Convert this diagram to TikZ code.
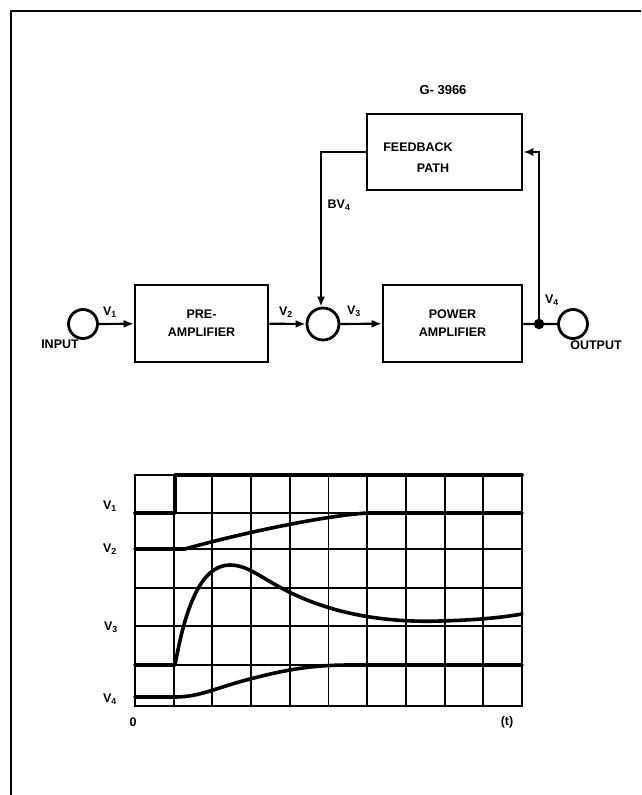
\documentclass[tikz,border=0pt]{standalone}
\usepackage{fontspec}
\setmainfont{Liberation Sans}
\usetikzlibrary{arrows.meta}
\newcommand\vlab[1]{V\textsubscript{#1}}
\begin{document}
\begin{tikzpicture}[x=1pt,y=-1pt,
  lbl/.style={font=\fontsize{12.5}{14}\selectfont\bfseries,inner sep=0pt},
  blk/.style={draw,line width=2.6pt,inner sep=0pt,align=center,font=\fontsize{12.5}{18}\selectfont\bfseries},
  ring/.style={draw,circle,line width=2.8pt,minimum size=29pt,inner sep=0pt},
  wire/.style={line width=2.2pt},
  arr/.style={wire,-{Latex[length=10pt,width=8pt]}},
  gridline/.style={line width=1.9pt},
  trace/.style={line width=3.6pt,line cap=round,line join=round}]
\useasboundingbox (0,0) rectangle (641,795);
% frame
\draw[line width=2.5pt] (11,795) -- (11,11) -- (641,11);

% block diagram
\node[lbl,font=\fontsize{13}{15}\selectfont\bfseries] (gnum) at (443,90) {G- 3966};
\node[blk,minimum width=155pt,minimum height=76pt] (fb) at (444.5,152) {};
\node[lbl] (fbt1) at (418,147) {FEEDBACK};
\node[lbl] (fbt2) at (433,168) {PATH};

\node[ring] (inp) at (83,324) {};
\node[blk,minimum width=133pt,minimum height=77pt] (pre) at (201.5,323.5) {PRE-\\AMPLIFIER};
\node[ring,minimum size=32pt] (sum) at (323,324) {};
\node[blk,minimum width=139pt,minimum height=77pt] (pow) at (452.5,323.5) {POWER\\AMPLIFIER};
\node[draw,fill,circle,minimum size=10pt,inner sep=0pt] (dot) at (539,324) {};
\node[ring] (outc) at (573,324) {};

\draw[arr] (inp) -- (pre);
\draw[arr] (pre) -- (sum);
\draw[arr] (sum) -- (pow);
\draw[wire] (pow) -- (dot) -- (outc);
\draw[arr] (dot.center) -- (539,152) -- (fb.east);
\draw[arr] (fb.west) -- (321,152) -- (sum.north -| 321,0);

\node[lbl] (v1) at (110,312) {\vlab{1}};
\node[lbl] (v2) at (286,312) {\vlab{2}};
\node[lbl] (v3) at (354,311) {\vlab{3}};
\node[lbl] (v4) at (552,300) {\vlab{4}};
\node[lbl] (bv4) at (339,205) {B\vlab{4}};
\node[lbl] (tin) at (60,344) {INPUT};
\node[lbl] (tout) at (596,345) {OUTPUT};

% oscillogram grid
\foreach \k in {0,...,10} \draw[gridline] ({135+38.7*\k},475) -- ({135+38.7*\k},706);
\foreach \yy in {475,513,549,588,626,665,706} \draw[gridline] (135,\yy) -- (522,\yy);
\draw[line width=2.8pt] (135,475) rectangle (522,706);

% traces
\draw[trace] (135,513) -- (175,513) -- (175,475) -- (522,475);
\draw[trace] (135,549) -- (185,549) .. controls (230,536) and (320,516) .. (367,513) -- (522,513);
\draw[trace] (135,665) -- (175,665) .. controls (185,610) and (200,565) .. (230,565)
   .. controls (255,565) and (270,590) .. (330,608)
   .. controls (370,620) and (410,622) .. (440,621)
   .. controls (480,620) and (505,617) .. (522,614);
\draw[trace] (135,697) -- (175,697) .. controls (200,697) and (215,688) .. (250,679)
   .. controls (285,670) and (310,665) .. (350,665) -- (522,665);

\node[lbl] (g1) at (110,506) {\vlab{1}};
\node[lbl] (g2) at (110,549) {\vlab{2}};
\node[lbl] (g3) at (111,627) {\vlab{3}};
\node[lbl] (g4) at (110,699) {\vlab{4}};
\node[lbl] (g0) at (133,722) {0};
\node[lbl] (gt) at (507,722) {(t)};
\end{tikzpicture}
\end{document}
